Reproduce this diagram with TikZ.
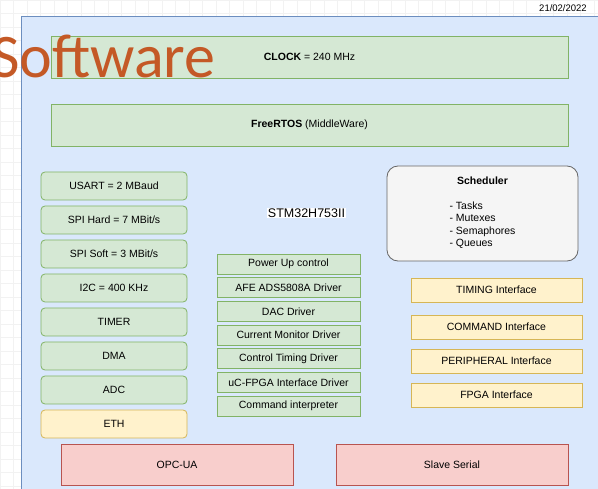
\documentclass[tikz,border=0pt]{standalone}
\usepackage{fontspec}
\setmainfont{Liberation Sans}
\newfontfamily\titlefont{Carlito}
\usetikzlibrary{positioning}
\definecolor{bluefill}{HTML}{DAE8FC}
\definecolor{blueline}{HTML}{6C8EBF}
\definecolor{greenfill}{HTML}{D5E8D4}
\definecolor{greenline}{HTML}{82B366}
\definecolor{yellowfill}{HTML}{FFF2CC}
\definecolor{yellowline}{HTML}{D6B656}
\definecolor{redfill}{HTML}{F8CECC}
\definecolor{redline}{HTML}{B85450}
\definecolor{greyfill}{HTML}{F5F5F5}
\definecolor{greyline}{HTML}{666666}
\definecolor{titleorange}{RGB}{196,89,38}

\begin{document}
\begin{tikzpicture}[x=1pt, y=-1pt,
    lbl/.style={font=\fontsize{10.5}{12}\selectfont, inner sep=0pt},
    greenbox/.style={lbl, draw=greenline, fill=greenfill, line width=0.8pt},
    periph/.style={greenbox, rounded corners=4pt, minimum width=146pt, minimum height=28pt},
    driver/.style={greenbox, minimum width=143pt, minimum height=20pt},
    iface/.style={lbl, draw=yellowline, fill=yellowfill, line width=0.8pt, minimum width=171pt, minimum height=24pt},
    link/.style={lbl, draw=redline, fill=redfill, line width=0.8pt, minimum width=232pt, minimum height=41pt}]
  \useasboundingbox (0,0) rectangle (598,489);

  % page grid and board
  \draw[black!5, step=13.5pt] (0,0) grid (598,489);
  \filldraw[fill=bluefill, draw=blueline, line width=0.8pt] (21,16) rectangle (610,500);
  \node[lbl, font=\fontsize{9.5}{11}\selectfont] (date) at (563,8) {21/02/2022};

  \node[greenbox, minimum width=517pt, minimum height=42pt] (clock) at (309.5,57) {\textbf{CLOCK} = 240 MHz};
  \node[greenbox, minimum width=517pt, minimum height=42pt] (rtos) at (309.5,125) {\textbf{FreeRTOS} (MiddleWare)};

  \node[lbl, font=\fontsize{12.5}{14}\selectfont, fill=white, inner sep=1pt] (mcu) at (306.5,213) {STM32H753II};

  % peripherals
  \node[periph] (usart) at (114,186) {USART = 2 MBaud};
  \node[periph] (spihard) at (114,220) {SPI Hard = 7 MBit/s};
  \node[periph] (spisoft) at (114,254) {SPI Soft = 3 MBit/s};
  \node[periph] (itwoc) at (114,288) {I2C = 400 KHz};
  \node[periph] (timer) at (114,322) {TIMER};
  \node[periph] (dma) at (114,356) {DMA};
  \node[periph] (adc) at (114,390) {ADC};
  \node[periph, draw=yellowline, fill=yellowfill] (eth) at (114,424) {ETH};

  % drivers
  \node[driver] (power) at (288.5,264) {Power Up control};
  \node[driver] (afe) at (288.5,287.7) {AFE ADS5808A Driver};
  \node[driver] (dac) at (288.5,311.4) {DAC Driver};
  \node[driver] (curmon) at (288.5,335.1) {Current Monitor Driver};
  \node[driver] (ctrltim) at (288.5,358.8) {Control Timing Driver};
  \node[driver] (ucfpga) at (288.5,382.5) {uC-FPGA Interface Driver};
  \node[driver] (cmdint) at (288.5,406.2) {Command interpreter};

  \node[lbl, draw=greyline, fill=greyfill, line width=0.8pt, rounded corners=11pt,
        minimum width=191pt, minimum height=95pt, align=center,
        font=\fontsize{10.5}{12.3}\selectfont] (sched) at (482.5,213.5)
        {\textbf{Scheduler}\\[12.7pt]\begin{tabular}[t]{@{}l@{}}- Tasks\\- Mutexes\\- Semaphores\\- Queues\end{tabular}};

  % interfaces
  \node[iface] (timing) at (496.5,290) {TIMING Interface};
  \node[iface] (command) at (496.5,327) {COMMAND Interface};
  \node[iface] (peripheral) at (496.5,361) {PERIPHERAL Interface};
  \node[iface] (fpga) at (496.5,395) {FPGA Interface};

  \node[link] (opcua) at (177,464.5) {OPC-UA};
  \node[link] (slave) at (452,464.5) {Slave Serial};

  \node[anchor=base west, inner sep=0pt, text=titleorange, font=\titlefont\fontsize{62}{62}\selectfont] (title) at (-9,78) {Software};
\end{tikzpicture}
\end{document}
